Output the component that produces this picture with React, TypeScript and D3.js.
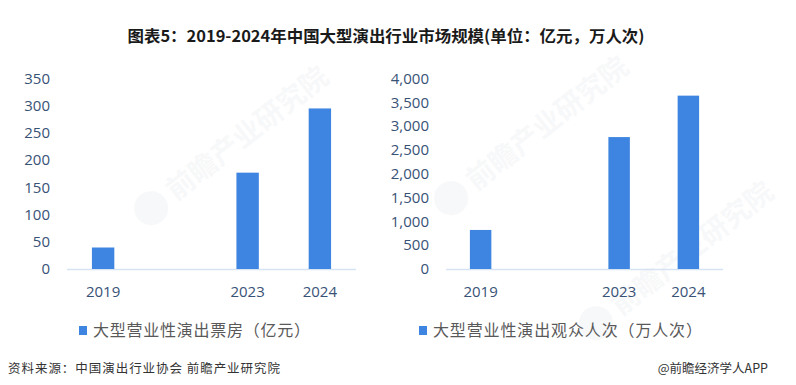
import React, { useEffect, useRef } from 'react';
import * as d3 from 'd3';

const years = ['2019', '', '2023', '2024'];
const boxOffice = [39.5, null, 177, 295];
const audience = [820, null, 2770, 3640];
const boxTicks = [0, 50, 100, 150, 200, 250, 300, 350];
const audTicks = [0, 500, 1000, 1500, 2000, 2500, 3000, 3500, 4000];

const title = '图表5：2019-2024年中国大型演出行业市场规模(单位：亿元，万人次)';
const legendBox = '大型营业性演出票房（亿元）';
const legendAud = '大型营业性演出观众人次（万人次）';
const source = '资料来源：中国演出行业协会 前瞻产业研究院';
const credit = '@前瞻经济学人APP';

const width = 796,
  height = 385;
const barColor = '#3d85e0';
const labelColor = '#385276';
const cjk = '"Noto Sans CJK SC", "Noto Sans", sans-serif';

const panel = (svg, x0, x1, labelX, values, ticks, max, fmt) => {
  const x = d3.scaleBand().domain(years.map((d, i) => i + ':' + d)).range([x0, x1]);
  const y = d3.scaleLinear().domain([0, max]).range([269, 78.5]);
  const g = svg.append('g');

  g.selectAll('text.tick')
    .data(ticks)
    .enter()
    .append('text')
    .attr('x', labelX)
    .attr('y', (d) => y(d))
    .attr('dy', '0.35em')
    .attr('text-anchor', 'end')
    .style('font-family', '"Open Sans", sans-serif')
    .style('font-size', '15px')
    .style('font-weight', 500)
    .style('fill', labelColor)
    .text((d) => fmt(d));

  g.append('line')
    .attr('x1', x0)
    .attr('x2', x1)
    .attr('y1', y(0) + 0.5)
    .attr('y2', y(0) + 0.5)
    .attr('stroke', '#d6e3f3')
    .attr('stroke-width', 1.5);

  const bw = x.bandwidth() * 0.31;
  g.selectAll('rect')
    .data(values.map((v, i) => ({ v, k: i + ':' + years[i] })).filter((d) => d.v != null))
    .enter()
    .append('rect')
    .attr('x', (d) => x(d.k) + x.bandwidth() / 2 - bw / 2)
    .attr('y', (d) => y(d.v))
    .attr('width', bw)
    .attr('height', (d) => y(0) - y(d.v))
    .style('fill', barColor);

  g.selectAll('text.cat')
    .data(years.map((d, i) => ({ d, k: i + ':' + d })))
    .enter()
    .append('text')
    .attr('x', (d) => x(d.k) + x.bandwidth() / 2)
    .attr('y', 292)
    .attr('dy', '0.35em')
    .attr('text-anchor', 'middle')
    .style('font-family', '"Open Sans", sans-serif')
    .style('font-size', '15px')
    .style('font-weight', 500)
    .style('fill', labelColor)
    .text((d) => d.d);
};

const watermark = (svg, cx, cy) => {
  const g = svg
    .append('g')
    .attr('transform', 'translate(' + [cx, cy] + ')rotate(-38)')
    .style('opacity', 0.06);
  g.append('circle').attr('cx', -62).attr('cy', 0).attr('r', 17).style('fill', '#8a94a6');
  g.append('text')
    .attr('x', -38)
    .attr('y', 0)
    .attr('dy', '0.35em')
    .style('font-family', cjk)
    .style('font-size', '28px')
    .style('font-weight', 'bold')
    .style('fill', '#8a94a6')
    .text('前瞻产业研究院');
};

const App = () => {
  const ref = useRef(null);

  useEffect(() => {
    if (!ref.current) return;
    d3.select(ref.current).selectAll('*').remove();
    const svg = d3
      .select(ref.current)
      .append('svg')
      .attr('width', width)
      .attr('height', height)
      .style('display', 'block')
      .style('background', '#fff');

    // faint watermarks
    watermark(svg, 200, 170);
    watermark(svg, 500, 160);
    watermark(svg, 645, 285);

    // title
    svg
      .append('text')
      .attr('x', 386)
      .attr('y', 36)
      .attr('dy', '0.35em')
      .attr('text-anchor', 'middle')
      .attr('textLength', 517)
      .attr('lengthAdjust', 'spacingAndGlyphs')
      .style('font-family', cjk)
      .style('font-size', '16px')
      .style('font-weight', 'bold')
      .style('fill', '#1a1a1a')
      .text(title);

    panel(svg, 67, 356, 50, boxOffice, boxTicks, 350, (d) => d3.format('d')(d));
    panel(svg, 446, 723, 429, audience, audTicks, 4000, (d) => d3.format(',')(d));

    // legends
    const legend = (x, label, len) => {
      svg.append('rect').attr('x', x).attr('y', 326).attr('width', 8).attr('height', 9).style('fill', barColor);
      svg
        .append('text')
        .attr('x', x + 14)
        .attr('y', 330.5)
        .attr('dy', '0.35em')
        .attr('textLength', len)
        .style('font-family', cjk)
        .style('font-size', '16px')
        .style('fill', '#595959')
        .text(label);
    };
    legend(79, legendBox, 217);
    legend(419, legendAud, 269);

    // footer
    svg
      .append('text')
      .attr('x', 8)
      .attr('y', 369)
      .attr('dy', '0.35em')
      .attr('textLength', 272)
      .style('font-family', cjk)
      .style('font-size', '12.5px')
      .style('fill', '#333')
      .text(source);
    svg
      .append('text')
      .attr('x', 768)
      .attr('y', 369)
      .attr('dy', '0.35em')
      .attr('text-anchor', 'end')
      .style('font-family', cjk)
      .style('font-size', '12.5px')
      .style('fill', '#333')
      .text(credit);
  }, []);

  return <div ref={ref} style={{ margin: -8 }} />;
};

export default App;
